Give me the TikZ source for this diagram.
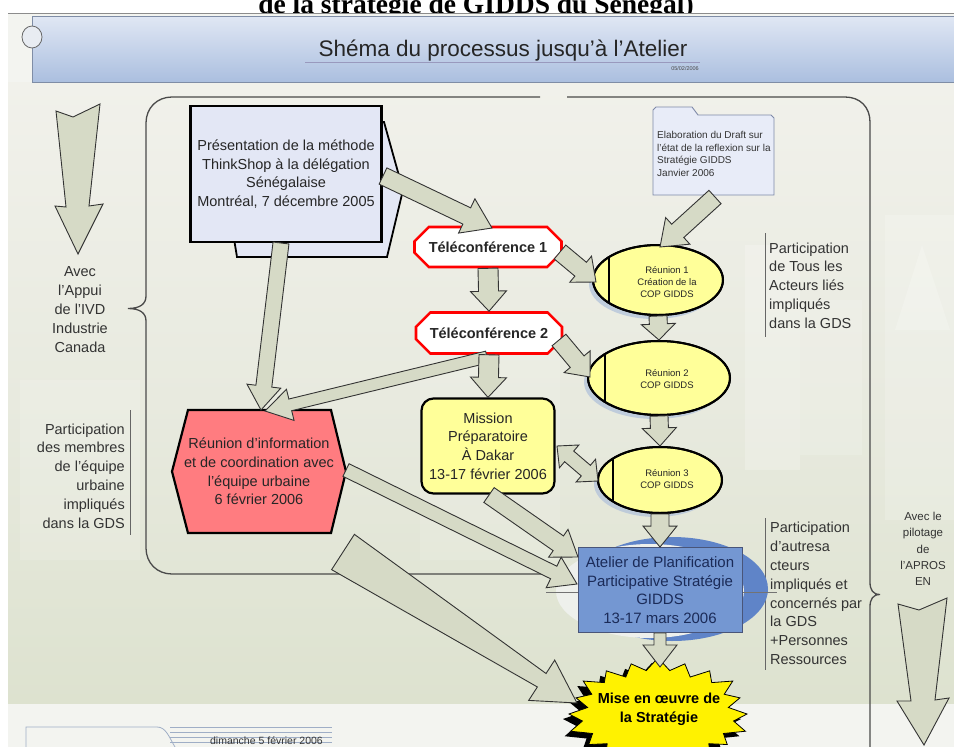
\documentclass[tikz,border=0pt]{standalone}
\usepackage{fontspec}
\setmainfont{Liberation Sans}
\newfontfamily\titleserif{Liberation Serif}
\usetikzlibrary{calc,shapes.geometric,shapes.misc}

\definecolor{slidetop}{HTML}{F1F1EB}
\definecolor{slidemid}{HTML}{E8EADF}
\definecolor{slidebot}{HTML}{DDE2CF}
\definecolor{footerbg}{HTML}{F3F4F0}
\definecolor{bartop}{HTML}{E0E7F4}
\definecolor{barbot}{HTML}{ABBFDF}
\definecolor{barline}{HTML}{7F8DA6}
\definecolor{presfill}{HTML}{E3E7F5}
\definecolor{telred}{HTML}{FF0000}
\definecolor{paleyellow}{HTML}{FFFF99}
\definecolor{salmon}{HTML}{FF7C80}
\definecolor{atelblue}{HTML}{7497D2}
\definecolor{ateltext}{HTML}{1B2B58}
\definecolor{crescent}{HTML}{5F84C8}
\definecolor{swashin}{HTML}{EEF0EC}
\definecolor{arrowfill}{HTML}{D6DAC6}
\definecolor{arrowline}{HTML}{333333}
\definecolor{notetext}{HTML}{333333}
\definecolor{framegray}{HTML}{4A4A4A}
\definecolor{draftfill}{HTML}{E8ECF8}
\definecolor{draftline}{HTML}{7E89A8}
\definecolor{footline}{HTML}{9FAEC6}
\definecolor{ellshadow}{HTML}{AFC0DA}

% block arrow: from, to, tail half-width, shaft half-width at head, head half-width, head length
\newcommand{\blockarrow}[6]{%
  \coordinate (ba-h) at ($(#2)!#6!(#1)$);
  \filldraw[blockarrow] ($(#1)!#3!90:(#2)$) -- ($(ba-h)!#4!90:(#2)$) -- ($(ba-h)!#5!90:(#2)$) -- (#2)
    -- ($(ba-h)!#5!-90:(#2)$) -- ($(ba-h)!#4!-90:(#2)$) -- ($(#1)!#3!-90:(#2)$) -- cycle;
}
% double-headed block arrow: end a, end b, shaft half-width, head half-width, head length
\newcommand{\twowayarrow}[5]{%
  \coordinate (da-p) at ($(#1)!#5!(#2)$);
  \coordinate (da-q) at ($(#2)!#5!(#1)$);
  \filldraw[blockarrow] (#1) -- ($(da-p)!#4!90:(#2)$) -- ($(da-p)!#3!90:(#2)$) -- ($(da-q)!#3!90:(#2)$)
    -- ($(da-q)!#4!90:(#2)$) -- (#2) -- ($(da-q)!#4!-90:(#2)$) -- ($(da-q)!#3!-90:(#2)$)
    -- ($(da-p)!#3!-90:(#2)$) -- ($(da-p)!#4!-90:(#2)$) -- cycle;
}
% starburst outline around the origin
\newcommand{\burstpath}{plot[samples at={0,9,...,351}, variable=\t]
  ({89*(1-0.17*mod(round(\t/9),2))*(1+0.04*sin(7*\t))*cos(\t)},
   {54*(1-0.2*mod(round(\t/9),2))*(1+0.04*sin(7*\t))*sin(\t)}) -- cycle}

\begin{document}
\begin{tikzpicture}[x=1pt,y=-1pt,
  blockarrow/.style={fill=arrowfill, draw=arrowline, line width=0.9pt, line join=miter},
  note/.style={text=notetext, inner sep=0pt, font=\fontsize{14.5}{18.8}\selectfont},
  body/.style={inner sep=0pt, font=\fontsize{14.5}{18.6}\selectfont, align=center, text=black!85},
  reunion/.style={ellipse, draw=black, line width=2pt, fill=paleyellow, inner sep=0pt},
  telbox/.style={chamfered rectangle, chamfered rectangle xsep=9pt, chamfered rectangle ysep=9pt,
    draw=telred, line width=2.6pt, fill=white, inner sep=0pt,
    font=\bfseries\fontsize{14.5}{17}\selectfont, text=black!85},
  small/.style={inner sep=0pt, align=center, font=\fontsize{9.5}{11.6}\selectfont, text=black!85},
  framestyle/.style={draw=framegray, line width=1.3pt},
  marker/.style={draw=black!60, line width=0.9pt}]

\useasboundingbox (0,0) rectangle (954,747);
\clip (0,0) rectangle (954,747);
\fill[white] (0,0) rectangle (954,747);

% heading above the slide
\node[anchor=base, inner sep=0pt] at (476,13)
  {\titleserif\bfseries\fontsize{27.5}{31}\selectfont de la stratégie de GIDDS du Sénégal)};

% slide background
\fill[footerbg] (8,13.5) rectangle (960,760);
\shade[top color=slidetop, bottom color=slidemid] (8,82) rectangle (960,400);
\shade[top color=slidemid, bottom color=slidebot] (8,400) rectangle (960,703);
\draw[black!45, line width=0.8pt] (8,13.5) -- (960,13.5);
% faint city silhouette
\fill[white, opacity=0.22] (745,245) rectangle (800,470);
\fill[white, opacity=0.15] (800,300) rectangle (862,455);
\fill[white, opacity=0.18] (885,215) rectangle (954,520);
\fill[white, opacity=0.20] (895,330) -- (922,245) -- (950,330) -- cycle;
\fill[white, opacity=0.15] (20,380) rectangle (140,560);
\fill[white, opacity=0.12] (420,330) rectangle (560,560);

% title bar
\shade[top color=bartop, bottom color=barbot] (32,16) rectangle (960,82);
\draw[barline, line width=1pt] (960,16) -- (32,16) -- (32,82) -- (960,82);
\draw[black!60, fill=bartop!60!footerbg, line width=0.8pt] (32,37) ellipse (10 and 11);
\node[anchor=base, inner sep=0pt, text=black!85] (titre) at (503,56)
  {\fontsize{22.5}{25}\selectfont Shéma du processus jusqu'à l'Atelier};
\draw[draw=black!65!blue!40, line width=1.8pt] (305,62.5) -- (700,62.5);
\node[anchor=base east, inner sep=0pt, text=black!70] (datemaj) at (699,70)
  {\fontsize{5.5}{6}\selectfont 05/02/2006};

% footer tab
\draw[footline, line width=0.8pt] (26,747) -- (26,727) -- (157,727)
  .. controls (166,727) and (169,737) .. (175,747);
\foreach \yy in {727,732,737,742,747}
  \draw[footline, line width=0.6pt] (170,\yy) -- (332,\yy);
\node[anchor=base east, inner sep=0pt, text=black!80] (datejour) at (323,744)
  {\fontsize{10.5}{12}\selectfont dimanche 5 février 2006};

% grouping braces
\draw[framestyle] (540,97) -- (172,97) .. controls (157,97) and (146,108) .. (146,123)
  -- (146,296) .. controls (146,304) and (140,308.5) .. (128,308.5)
  .. controls (140,308.5) and (146,313) .. (146,321)
  -- (146,548) .. controls (146,563) and (157,574) .. (172,574) -- (545,574);
\draw[framestyle] (567,97) -- (845,97) .. controls (860,97) and (870,107) .. (870,122)
  -- (870,582) .. controls (870,590) and (873,594.5) .. (880,594.5)
  .. controls (873,594.5) and (870,599) .. (870,607) -- (870,760);

% side notes
\node[note, align=center] (appui) at (80,309.5)
  {Avec\\l'Appui\\de l'IVD\\Industrie\\Canada};
\node[note, align=right, anchor=east] (equipe) at (125,476)
  {Participation\\des membres\\de l'équipe\\urbaine\\impliqués\\dans la GDS};
\draw[marker] (130,410) -- (130,535);
\node[note, align=left, anchor=west] (tous) at (769,285.5)
  {Participation\\de Tous les\\Acteurs liés\\impliqués\\dans la GDS};
\draw[marker] (765,233) -- (765,337);
\node[note, align=left, anchor=west] (autres) at (770,593.5)
  {Participation\\d'autresa\\cteurs\\impliqués et\\concernés par\\la GDS\\+Personnes\\Ressources};
\draw[marker] (765,518) -- (765,670);
\node[inner sep=0pt, align=center, text=notetext, font=\fontsize{11.5}{16.2}\selectfont] (apros)
  at (923,549) {Avec le\\pilotage\\de\\l'APROS\\EN};

% large side arrows
\filldraw[blockarrow] (56,111) -- (73,117) -- (100,104) -- (89,206) -- (103,204) -- (78,254)
  -- (55,206) -- (66,207) -- cycle;
\filldraw[blockarrow] (898,604) -- (919,610) -- (947,598) -- (935,700) -- (949,698) -- (924,745)
  -- (897,701) -- (911,701) -- cycle;

% presentation block with its hexagonal backing
\filldraw[fill=presfill, draw=black, line width=1.8pt]
  (240,122) -- (384,122) -- (403,190) -- (387,257) -- (237,257) -- (226,190) -- cycle;
\node[body, draw=black, line width=2.4pt, fill=presfill, minimum width=191pt, minimum height=136pt]
  (pres) at (286,174) {Présentation de la méthode\\ThinkShop à la délégation\\Sénégalaise\\Montréal, 7 décembre 2005};

% draft folder
\filldraw[fill=draftfill, draw=draftline, line width=0.9pt]
  (653,195) -- (653,110) -- (656,107) -- (692,107) -- (698,115) -- (771,115)
  -- (774,118) -- (774,195) -- cycle;
\node[inner sep=0pt, anchor=west, align=left, text=black!80, font=\fontsize{10}{12.4}\selectfont]
  (draft) at (657,154) {Elaboration du Draft sur\\l'état de la reflexion sur la\\Stratégie GIDDS\\Janvier 2006};

% teleconferences
\node[telbox, minimum width=147pt, minimum height=40pt] (tel1) at (488,247) {Téléconférence 1};
\node[telbox, minimum width=146pt, minimum height=41pt] (tel2) at (489,333) {Téléconférence 2};

% preparatory mission
\node[body, draw=black, line width=2.2pt, fill=paleyellow, rounded corners=12pt,
  minimum width=133pt, minimum height=95pt] (mission) at (488,446)
  {Mission\\Préparatoire\\À Dakar\\13-17 février 2006};

% coordination meeting (hexagon)
\coordinate (infoC) at (259,471.5);
\filldraw[fill=salmon, draw=black, line width=2.2pt]
  ($(infoC)+(-87,0)$) -- ($(infoC)+(-71,-61.5)$) -- ($(infoC)+(72,-61.5)$) -- ($(infoC)+(87,0)$)
  -- ($(infoC)+(72,61.5)$) -- ($(infoC)+(-71,61.5)$) -- cycle;
\node[body] (info) at (infoC)
  {Réunion d'information\\et de coordination avec\\l'équipe urbaine\\6 février 2006};

% COP meetings
\fill[ellshadow, opacity=0.7] (654,284) ellipse (65 and 35);
\node[reunion, minimum width=130pt, minimum height=70pt] (r1) at (658,280) {};
\fill[ellshadow, opacity=0.7] (655,382) ellipse (71 and 37);
\node[reunion, minimum width=142pt, minimum height=74pt] (r2) at (659,378) {};
\fill[ellshadow, opacity=0.7] (656,484) ellipse (62 and 33);
\node[reunion, minimum width=124pt, minimum height=66pt] (r3) at (660,480) {};
\begin{scope}
  \clip (r1.center) ellipse (65 and 35);
  \draw[black, line width=2pt] (609,230) -- (609,330);
\end{scope}
\begin{scope}
  \clip (r2.center) ellipse (71 and 37);
  \draw[black, line width=2pt] (605,330) -- (605,430);
\end{scope}
\begin{scope}
  \clip (r3.center) ellipse (62 and 33);
  \draw[black, line width=2pt] (613,440) -- (613,520);
\end{scope}
\node[reunion, minimum width=130pt, minimum height=70pt, fill=none] at (r1.center) {};
\node[reunion, minimum width=142pt, minimum height=74pt, fill=none] at (r2.center) {};
\node[reunion, minimum width=124pt, minimum height=66pt, fill=none] at (r3.center) {};
\node[small] (r1t) at (667,282) {Réunion 1\\Création de la\\COP GIDDS};
\node[small] (r2t) at (667,379) {Réunion 2\\COP GIDDS};
\node[small] (r3t) at (667,479) {Réunion 3\\COP GIDDS};

% planning workshop with its blue swash
\fill[crescent] (672,589) ellipse (96 and 52);
\fill[swashin] (650,591) ellipse (94 and 47);
\draw[black!55, line width=0.8pt] (546,592) -- (777,592);
\node[body, draw=ateltext!80, line width=0.9pt, fill=atelblue, text=ateltext,
  minimum width=164pt, minimum height=85pt, font=\fontsize{15}{18.6}\selectfont]
  (atelier) at (660,590) {Atelier de Planification\\Participative Stratégie\\GIDDS\\13-17 mars 2006};

% implementation starburst
\begin{scope}[shift={(652,719)}]
  \fill[black] \burstpath;
\end{scope}
\begin{scope}[shift={(658,714)}]
  \filldraw[fill=yellow, draw=black, line width=0.8pt] \burstpath;
\end{scope}
\node[inner sep=0pt, align=center, font=\bfseries\fontsize{14.5}{19}\selectfont] (mise)
  at (659,709.5) {Mise en œuvre de\\la Stratégie};

% connector end points
\coordinate (presE) at (383,176);
\coordinate (presS) at (281,243);
\coordinate (tel1N) at (492,228);
\coordinate (tel1E) at (560,252);
\coordinate (tel2S) at (487,357);
\coordinate (tel2E) at (559,340);
\coordinate (infoN) at (261,410);
\coordinate (infoNE) at (265,411);
\coordinate (infoE) at (346,470);
\coordinate (infoSE) at (343,552);
\coordinate (r1W) at (596,282);
\coordinate (r2W) at (590,377);
\coordinate (r3W) at (598,481);
\coordinate (draftS) at (715,197);
\coordinate (r1N) at (660,247);
\coordinate (missE) at (557,446);
\coordinate (missS) at (489,495);
\coordinate (atelW) at (578,557);
\coordinate (atelSW) at (577,584);
\coordinate (miseW) at (577,703);
\coordinate (miseN) at (660,667);

% block arrows
\blockarrow{presE}{tel1N}{9pt}{9pt}{19pt}{28pt}
\blockarrow{presS}{infoN}{8pt}{8pt}{17pt}{24pt}
\blockarrow{tel2S}{infoNE}{6pt}{6pt}{16pt}{26pt}
\blockarrow{tel1.south}{tel2.north}{10pt}{10pt}{18pt}{20pt}
\blockarrow{tel2.south}{mission.north}{10pt}{10pt}{18pt}{20pt}
\blockarrow{tel1E}{r1W}{9pt}{9pt}{17pt}{20pt}
\blockarrow{tel2E}{r2W}{9pt}{9pt}{17pt}{20pt}
\blockarrow{draftS}{r1N}{9pt}{9pt}{18pt}{24pt}
\blockarrow{r1.south}{r2.north}{9pt}{9pt}{17pt}{16pt}
\blockarrow{r2.south}{r3.north}{9pt}{9pt}{17pt}{18pt}
\twowayarrow{missE}{r3W}{7pt}{15pt}{16pt}
\blockarrow{r3.south}{atelier.north}{9pt}{9pt}{17pt}{21pt}
\blockarrow{atelier.south}{miseN}{6pt}{6pt}{17pt}{22pt}
\blockarrow{missS}{atelW}{9pt}{9pt}{17pt}{24pt}
\blockarrow{infoE}{atelSW}{7pt}{7pt}{17pt}{26pt}
\blockarrow{infoSE}{miseW}{21pt}{8pt}{24pt}{42pt}

\end{tikzpicture}
\end{document}
